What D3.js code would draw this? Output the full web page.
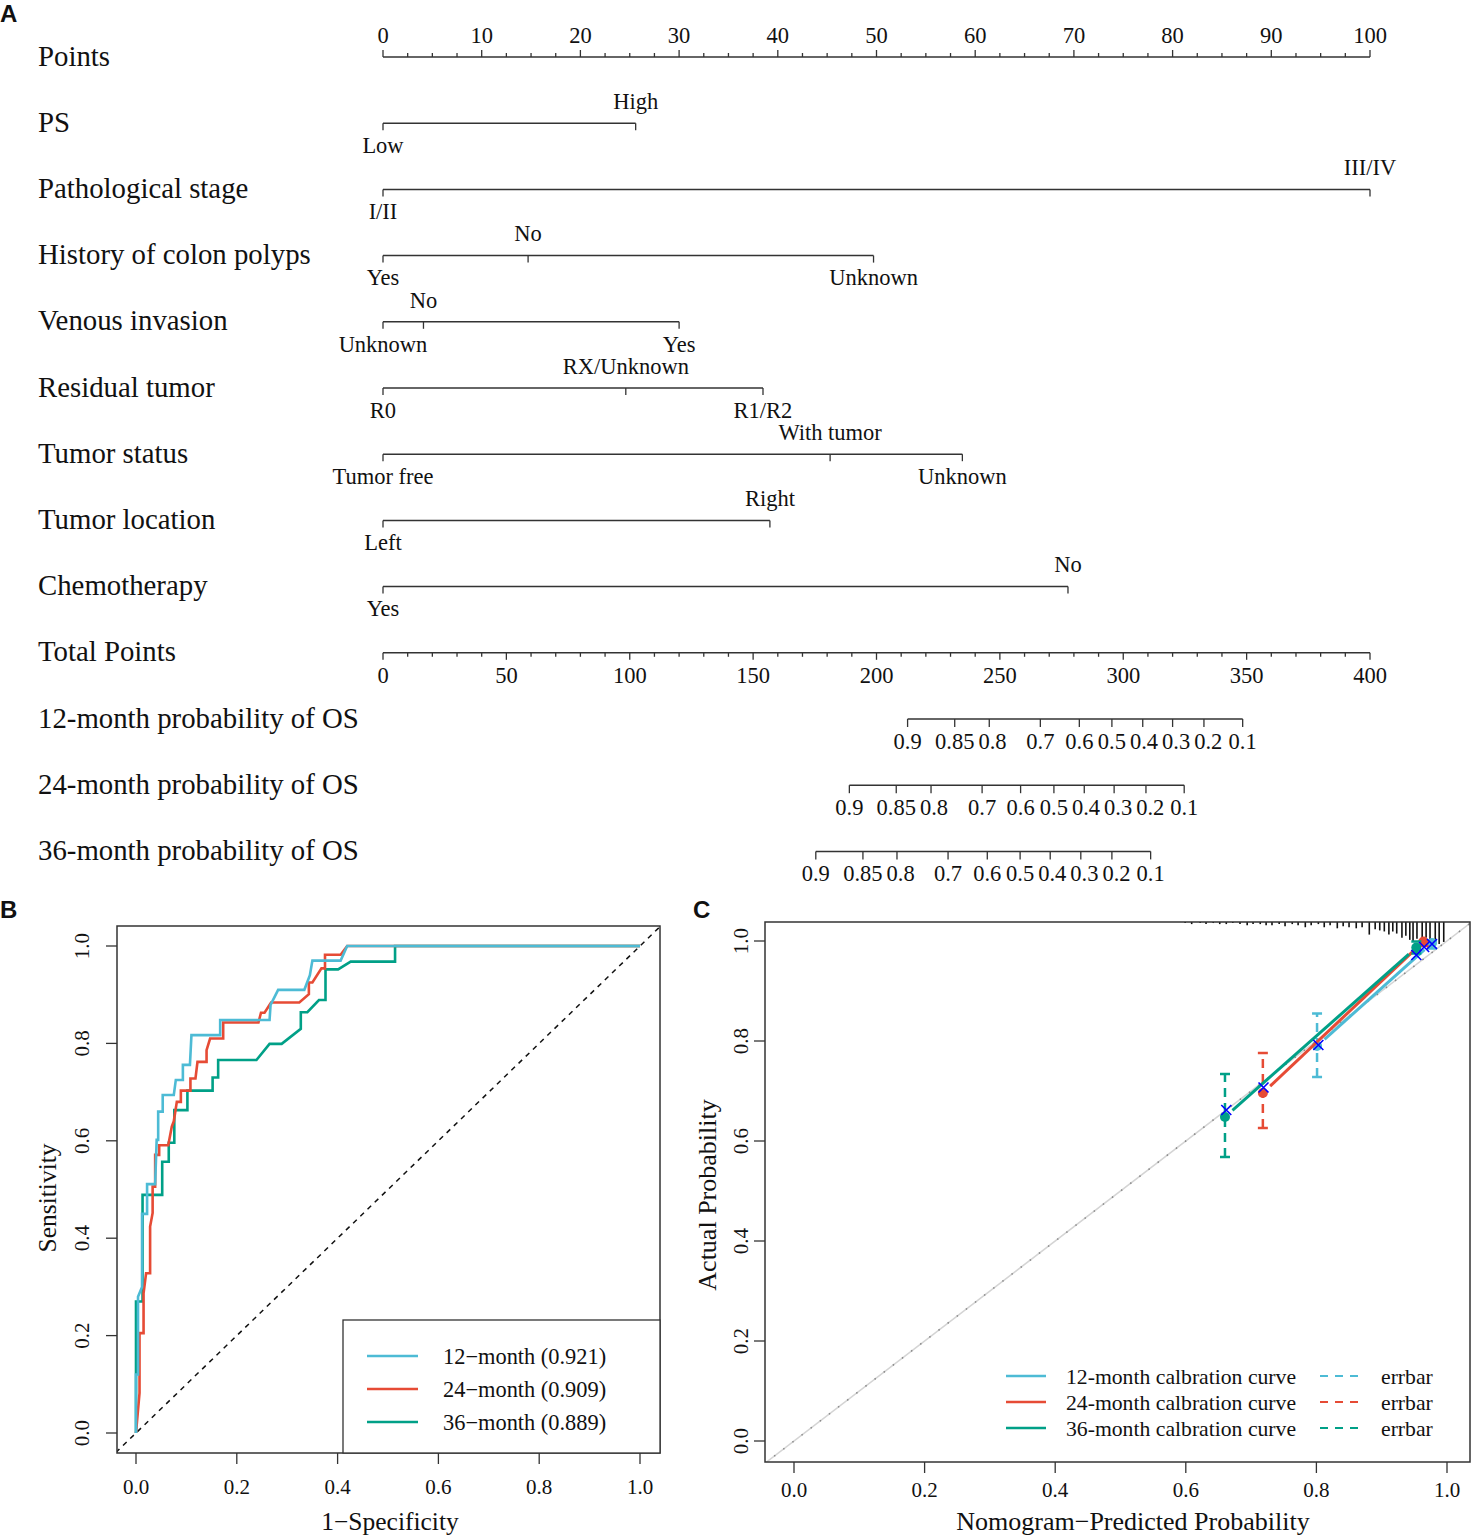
<!DOCTYPE html>
<html>
<head>
<meta charset="utf-8">
<script src="https://cdn.jsdelivr.net/npm/d3@7"></script>
<style>
  body { margin: 0; background: #fff; }
  svg text { font-family: "Liberation Serif", "Times New Roman", serif; fill: #111; }
  .tag { font-family: "Liberation Sans", Arial, sans-serif !important; font-weight: bold; }
</style>
</head>
<body>
<svg id="fig" width="1474" height="1539"></svg>
<script>
// ---------------- nomogram (panel A) ----------------
const pointTicks = d3.range(0, 101, 10);
const totalTicks = d3.range(0, 401, 50);

const varNames = ["PS", "Pathological stage", "History of colon polyps", "Venous invasion",
  "Residual tumor", "Tumor status", "Tumor location", "Chemotherapy"];
const varLevels = [
  ["Low", "High"],
  ["I/II", "III/IV"],
  ["Yes", "No", "Unknown"],
  ["Unknown", "No", "Yes"],
  ["R0", "RX/Unknown", "R1/R2"],
  ["Tumor free", "With tumor", "Unknown"],
  ["Left", "Right"],
  ["Yes", "No"]
];
const varPoints = [
  [0, 25.6],
  [0, 100],
  [0, 14.7, 49.7],
  [0, 4.1, 30.0],
  [0, 24.6, 38.5],
  [0, 45.3, 58.7],
  [0, 39.2],
  [0, 69.4]
];

const probNames = ["12-month probability of OS", "24-month probability of OS", "36-month probability of OS"];
const probLabels = ["0.9", "0.85", "0.8", "0.7", "0.6", "0.5", "0.4", "0.3", "0.2", "0.1"];
// total points at which each survival probability falls
const prob12Total = [212.6, 231.7, 245.7, 266.4, 282.2, 295.4, 307.9, 320.0, 332.7, 348.4];
const prob24Total = [189.0, 208.0, 222.1, 242.8, 258.4, 271.9, 284.2, 296.3, 309.2, 324.7];
const prob36Total = [175.4, 194.5, 208.3, 229.0, 244.9, 258.2, 270.4, 282.8, 295.4, 311.1];

// ---------------- ROC (panel B) ----------------
const roc12 = [[0,0],[0,0.12],[0.004,0.12],[0.004,0.28],[0.012,0.30],[0.012,0.45],[0.022,0.45],[0.022,0.511],
  [0.038,0.511],[0.041,0.602],[0.044,0.602],[0.044,0.66],[0.053,0.66],[0.053,0.694],[0.075,0.694],[0.079,0.725],
  [0.093,0.725],[0.093,0.756],[0.107,0.756],[0.110,0.817],[0.167,0.817],[0.167,0.848],[0.265,0.848],[0.267,0.879],
  [0.282,0.910],[0.334,0.910],[0.345,0.94],[0.350,0.970],[0.406,0.970],[0.419,1],[1,1]];
const roc24 = [[0,0],[0.007,0.082],[0.007,0.205],[0.015,0.205],[0.015,0.287],[0.020,0.328],[0.028,0.328],
  [0.028,0.424],[0.033,0.452],[0.033,0.506],[0.038,0.506],[0.038,0.571],[0.046,0.571],[0.046,0.591],[0.064,0.591],
  [0.071,0.629],[0.075,0.64],[0.081,0.680],[0.089,0.680],[0.089,0.703],[0.108,0.703],[0.108,0.728],[0.118,0.728],
  [0.122,0.762],[0.140,0.762],[0.140,0.786],[0.147,0.810],[0.173,0.810],[0.173,0.843],[0.243,0.843],[0.248,0.863],
  [0.255,0.863],[0.268,0.884],[0.324,0.884],[0.343,0.901],[0.343,0.925],[0.350,0.925],[0.368,0.954],[0.375,0.954],
  [0.375,0.982],[0.406,0.982],[0.419,1],[1,1]];
const roc36 = [[0,0],[0,0.27],[0.013,0.27],[0.013,0.489],[0.052,0.489],[0.052,0.557],[0.065,0.557],[0.065,0.596],
  [0.076,0.596],[0.076,0.663],[0.102,0.663],[0.102,0.703],[0.152,0.703],[0.152,0.730],[0.163,0.730],[0.163,0.766],
  [0.239,0.766],[0.265,0.799],[0.289,0.799],[0.327,0.830],[0.327,0.864],[0.340,0.864],[0.363,0.889],[0.376,0.889],
  [0.376,0.952],[0.401,0.952],[0.426,0.968],[0.514,0.968],[0.514,1],[1,1]];
const rocLabels = ["12\u2212month (0.921)", "24\u2212month (0.909)", "36\u2212month (0.889)"];

// ---------------- calibration (panel C) ----------------
const calPred12 = [0.801, 0.977], calObs12 = [0.790, 0.996], calLo12 = [0.728, 0.985], calHi12 = [0.855, 1.0];
const calPred24 = [0.718, 0.964], calObs24 = [0.696, 0.999], calLo24 = [0.626, 0.99], calHi24 = [0.776, 1.0];
const calPred36 = [0.660, 0.953], calObs36 = [0.648, 0.987], calLo36 = [0.568, 0.975], calHi36 = [0.734, 0.999];
// bias-corrected estimates (blue crosses)
const corrPred = [0.803, 0.719, 0.662, 0.953, 0.965, 0.977];
const corrObs  = [0.792, 0.707, 0.662, 0.972, 0.988, 0.994];
// distribution of predicted probabilities (rug at top)
const rugP = [0.599,0.609,0.622,0.631,0.642,0.652,0.662,0.672,0.683,0.694,0.703,0.714,0.723,0.732,0.743,0.752,
  0.763,0.772,0.783,0.792,0.803,0.812,0.821,0.832,0.841,0.850,0.861,0.870,0.881,0.890,0.897,0.904,0.911,0.917,
  0.923,0.931,0.937,0.943,0.948,0.954,0.962,0.968,0.974,0.982,0.988,0.995];
const rugFreq = [1,2,1,2,1,2,2,1,2,3,2,2,3,3,2,4,2,3,5,3,2,5,3,6,4,5,6,5,12,7,8,9,12,9,11,15,13,17,19,16,19,15,20,18,21,19];
const calLabels = ["12-month calbration curve", "24-month calbration curve", "36-month calbration curve"];

const colors = ["#4DBBD5", "#E64B35", "#00A087"];
const ink = "#333";

const svg = d3.select("#fig");

// ======== panel A ========
const pts = d3.scaleLinear().domain([0, 100]).range([383, 1370]);
const tot = d3.scaleLinear().domain([0, 400]).range([383, 1370]);
const rowY = i => 57 + i * 66.2;
const labFont = 28.8, tickFont = 22.5;

svg.append("text").attr("class", "tag").attr("x", 0).attr("y", 22).attr("font-size", 24).text("A");

const A = svg.append("g");
function rowLabel(txt, y) {
  A.append("text").attr("x", 38).attr("y", y).attr("dy", "0.3em").attr("font-size", labFont).text(txt);
}

// Points axis (ticks upward)
rowLabel("Points", rowY(0));
A.append("line").attr("x1", pts(0)).attr("x2", pts(100)).attr("y1", rowY(0)).attr("y2", rowY(0))
  .attr("stroke", ink).attr("stroke-width", 1.5);
A.selectAll(".ptmin").data(d3.range(0, 100.1, 2.5)).join("line")
  .attr("x1", d => pts(d)).attr("x2", d => pts(d))
  .attr("y1", rowY(0)).attr("y2", d => rowY(0) - (d % 10 === 0 ? 7 : 4))
  .attr("stroke", ink).attr("stroke-width", 1.3);
A.selectAll(".ptlab").data(pointTicks).join("text")
  .attr("x", d => pts(d)).attr("y", rowY(0) - 22).attr("dy", "0.35em")
  .attr("text-anchor", "middle").attr("font-size", tickFont).text(d => d);

// variables
varNames.forEach((name, i) => {
  const y = rowY(i + 1);
  rowLabel(name, y);
  const p = varPoints[i];
  A.append("line").attr("x1", pts(d3.min(p))).attr("x2", pts(d3.max(p))).attr("y1", y).attr("y2", y)
    .attr("stroke", ink).attr("stroke-width", 1.5);
  const order = d3.range(p.length).sort((a, b) => p[a] - p[b]);
  order.forEach((k, j) => {
    A.append("line").attr("x1", pts(p[k])).attr("x2", pts(p[k])).attr("y1", y).attr("y2", y + 7)
      .attr("stroke", ink).attr("stroke-width", 1.3);
    A.append("text").attr("x", pts(p[k])).attr("y", j % 2 === 0 ? y + 22 : y - 22).attr("dy", "0.35em")
      .attr("text-anchor", "middle").attr("font-size", tickFont).text(varLevels[i][k]);
  });
});

// Total points axis
const yTot = rowY(9);
rowLabel("Total Points", yTot);
A.append("line").attr("x1", tot(0)).attr("x2", tot(400)).attr("y1", yTot).attr("y2", yTot)
  .attr("stroke", ink).attr("stroke-width", 1.5);
A.selectAll(".totmin").data(d3.range(0, 401, 10)).join("line")
  .attr("x1", d => tot(d)).attr("x2", d => tot(d))
  .attr("y1", yTot).attr("y2", d => yTot + (d % 50 === 0 ? 7 : 4))
  .attr("stroke", ink).attr("stroke-width", 1.3);
A.selectAll(".totlab").data(totalTicks).join("text")
  .attr("x", d => tot(d)).attr("y", yTot + 22).attr("dy", "0.35em")
  .attr("text-anchor", "middle").attr("font-size", tickFont).text(d => d);

// probability axes
[prob12Total, prob24Total, prob36Total].forEach((arr, i) => {
  const y = rowY(10 + i);
  rowLabel(probNames[i], y);
  A.append("line").attr("x1", tot(arr[0])).attr("x2", tot(arr[arr.length - 1])).attr("y1", y).attr("y2", y)
    .attr("stroke", ink).attr("stroke-width", 1.5);
  let prevRight = -Infinity;
  arr.forEach((v, k) => {
    A.append("line").attr("x1", tot(v)).attr("x2", tot(v)).attr("y1", y).attr("y2", y + 8)
      .attr("stroke", ink).attr("stroke-width", 1.3);
    const t = A.append("text").attr("x", tot(v)).attr("y", y + 22).attr("dy", "0.35em")
      .attr("text-anchor", "middle").attr("font-size", tickFont).text(probLabels[k]);
    // nudge right when a label would run into the previous one
    const w = t.node().getComputedTextLength();
    let xc = tot(v);
    if (xc - w / 2 < prevRight + 4) xc = prevRight + 4 + w / 2;
    t.attr("x", xc);
    prevRight = xc + w / 2;
  });
});

// ======== panel B : ROC ========
svg.append("text").attr("class", "tag").attr("x", 0).attr("y", 918).attr("font-size", 24).text("B");
const B = svg.append("g");
const bx = d3.scaleLinear().domain([0, 1]).range([136, 640]);
const by = d3.scaleLinear().domain([0, 1]).range([1433, 946]);
const bBox = { x0: 117, x1: 660, y0: 926, y1: 1453 };

B.append("clipPath").attr("id", "clipB").append("rect")
  .attr("x", bBox.x0).attr("y", bBox.y0).attr("width", bBox.x1 - bBox.x0).attr("height", bBox.y1 - bBox.y0);

// diagonal reference
B.append("line").attr("clip-path", "url(#clipB)")
  .attr("x1", bx(-0.04)).attr("y1", by(-0.04)).attr("x2", bx(1.04)).attr("y2", by(1.04))
  .attr("stroke", "#111").attr("stroke-width", 1.5).attr("stroke-dasharray", "5,5");

const rocLine = d3.line().x(d => bx(d[0])).y(d => by(d[1]));
[roc36, roc24, roc12].forEach((r, i) => {
  B.append("path").attr("d", rocLine(r)).attr("fill", "none")
    .attr("stroke", colors[2 - i]).attr("stroke-width", 2.6).attr("clip-path", "url(#clipB)");
});

B.append("rect").attr("x", bBox.x0).attr("y", bBox.y0).attr("width", bBox.x1 - bBox.x0).attr("height", bBox.y1 - bBox.y0)
  .attr("fill", "none").attr("stroke", ink).attr("stroke-width", 1.5);

const bTicks = [0, 0.2, 0.4, 0.6, 0.8, 1.0];
B.selectAll(".bxt").data(bTicks).join("line")
  .attr("x1", d => bx(d)).attr("x2", d => bx(d)).attr("y1", bBox.y1).attr("y2", bBox.y1 + 11)
  .attr("stroke", ink).attr("stroke-width", 1.3);
B.selectAll(".bxl").data(bTicks).join("text")
  .attr("x", d => bx(d)).attr("y", 1487).attr("dy", "0.35em").attr("text-anchor", "middle")
  .attr("font-size", 21).text(d => d.toFixed(1));
B.selectAll(".byt").data(bTicks).join("line")
  .attr("x1", bBox.x0).attr("x2", bBox.x0 - 11).attr("y1", d => by(d)).attr("y2", d => by(d))
  .attr("stroke", ink).attr("stroke-width", 1.3);
B.selectAll(".byl").data(bTicks).join("text")
  .attr("transform", d => `translate(82,${by(d)}) rotate(-90)`).attr("dy", "0.35em")
  .attr("text-anchor", "middle").attr("font-size", 21).text(d => d.toFixed(1));
B.append("text").attr("x", 390).attr("y", 1521).attr("dy", "0.35em").attr("text-anchor", "middle")
  .attr("font-size", 25.5).text("1\u2212Specificity");
B.append("text").attr("transform", "translate(47,1198) rotate(-90)").attr("dy", "0.35em")
  .attr("text-anchor", "middle").attr("font-size", 25.5).text("Sensitivity");

// legend
B.append("rect").attr("x", 343).attr("y", 1320).attr("width", 317).attr("height", 133)
  .attr("fill", "#fff").attr("stroke", ink).attr("stroke-width", 1.3);
rocLabels.forEach((t, i) => {
  const y = 1356 + i * 33;
  B.append("line").attr("x1", 367).attr("x2", 418).attr("y1", y).attr("y2", y)
    .attr("stroke", colors[i]).attr("stroke-width", 2.6);
  B.append("text").attr("x", 443).attr("y", y).attr("dy", "0.35em").attr("font-size", 22.4).text(t);
});

// ======== panel C : calibration ========
svg.append("text").attr("class", "tag").attr("x", 693).attr("y", 918).attr("font-size", 24).text("C");
const C = svg.append("g");
const cx = d3.scaleLinear().domain([0, 1]).range([794, 1447]);
const cy = d3.scaleLinear().domain([0, 1]).range([1441, 941]);
const cBox = { x0: 765, x1: 1470, y0: 922, y1: 1462 };

C.append("clipPath").attr("id", "clipC").append("rect")
  .attr("x", cBox.x0).attr("y", cBox.y0).attr("width", cBox.x1 - cBox.x0).attr("height", cBox.y1 - cBox.y0);

// ideal line
const dLo = (cBox.x0 - 794) / 653, dHi = (cBox.x1 - 794) / 653;
C.append("line").attr("clip-path", "url(#clipC)")
  .attr("x1", cx(dLo)).attr("y1", cy(dLo)).attr("x2", cx(dHi)).attr("y2", cy(dHi))
  .attr("stroke", "#d4d4d4").attr("stroke-width", 1.5);
C.append("line").attr("clip-path", "url(#clipC)")
  .attr("x1", cx(dLo)).attr("y1", cy(dLo)).attr("x2", cx(dHi)).attr("y2", cy(dHi))
  .attr("stroke", "#888").attr("stroke-width", 1.5).attr("stroke-dasharray", "1.5,10");

// rug of predicted probabilities
const rugH = d3.scaleLinear().domain([0, 20]).range([0, 21]);
C.selectAll(".rug").data(rugP).join("line")
  .attr("x1", d => cx(d)).attr("x2", d => cx(d))
  .attr("y1", cBox.y0).attr("y2", (d, i) => cBox.y0 + rugH(rugFreq[i]))
  .attr("stroke", "#111").attr("stroke-width", 1.6);

const cal = [
  { pred: calPred12, obs: calObs12, lo: calLo12, hi: calHi12 },
  { pred: calPred24, obs: calObs24, lo: calLo24, hi: calHi24 },
  { pred: calPred36, obs: calObs36, lo: calLo36, hi: calHi36 }
];
cal.forEach((c, i) => {
  const col = colors[i];
  // error bars
  c.pred.forEach((p, k) => {
    C.append("line").attr("x1", cx(p)).attr("x2", cx(p)).attr("y1", cy(c.lo[k])).attr("y2", cy(c.hi[k]))
      .attr("stroke", col).attr("stroke-width", 2.5).attr("stroke-dasharray", "9,6");
    [c.lo[k], c.hi[k]].forEach(v => {
      C.append("line").attr("x1", cx(p) - 5).attr("x2", cx(p) + 5).attr("y1", cy(v)).attr("y2", cy(v))
        .attr("stroke", col).attr("stroke-width", 2.5);
    });
  });
  // line with gaps at the points (type = "b")
  for (let k = 0; k < c.pred.length - 1; k++) {
    const x1 = cx(c.pred[k]), y1 = cy(c.obs[k]), x2 = cx(c.pred[k + 1]), y2 = cy(c.obs[k + 1]);
    const len = Math.hypot(x2 - x1, y2 - y1), ux = (x2 - x1) / len, uy = (y2 - y1) / len;
    C.append("line").attr("x1", x1 + ux * 10).attr("y1", y1 + uy * 10)
      .attr("x2", x2 - ux * 10).attr("y2", y2 - uy * 10)
      .attr("stroke", col).attr("stroke-width", 3);
  }
  c.pred.forEach((p, k) => {
    C.append("circle").attr("cx", cx(p)).attr("cy", cy(c.obs[k])).attr("r", 5).attr("fill", col);
  });
});

// bias-corrected crosses
corrPred.forEach((p, k) => {
  const x = cx(p), y = cy(corrObs[k]);
  C.append("path").attr("d", `M${x - 5},${y - 5}L${x + 5},${y + 5}M${x - 5},${y + 5}L${x + 5},${y - 5}`)
    .attr("stroke", "#0000FF").attr("stroke-width", 1.6);
});

C.append("rect").attr("x", cBox.x0).attr("y", cBox.y0).attr("width", cBox.x1 - cBox.x0).attr("height", cBox.y1 - cBox.y0)
  .attr("fill", "none").attr("stroke", ink).attr("stroke-width", 1.5);

const cTicks = [0, 0.2, 0.4, 0.6, 0.8, 1.0];
C.selectAll(".cxt").data(cTicks).join("line")
  .attr("x1", d => cx(d)).attr("x2", d => cx(d)).attr("y1", cBox.y1).attr("y2", cBox.y1 + 11)
  .attr("stroke", ink).attr("stroke-width", 1.3);
C.selectAll(".cxl").data(cTicks).join("text")
  .attr("x", d => cx(d)).attr("y", 1490).attr("dy", "0.35em").attr("text-anchor", "middle")
  .attr("font-size", 21).text(d => d.toFixed(1));
C.selectAll(".cyt").data(cTicks).join("line")
  .attr("x1", cBox.x0).attr("x2", cBox.x0 - 11).attr("y1", d => cy(d)).attr("y2", d => cy(d))
  .attr("stroke", ink).attr("stroke-width", 1.3);
C.selectAll(".cyl").data(cTicks).join("text")
  .attr("transform", d => `translate(741,${cy(d)}) rotate(-90)`).attr("dy", "0.35em")
  .attr("text-anchor", "middle").attr("font-size", 21).text(d => d.toFixed(1));
C.append("text").attr("x", 1133).attr("y", 1521).attr("dy", "0.35em").attr("text-anchor", "middle")
  .attr("font-size", 26).text("Nomogram\u2212Predicted Probability");
C.append("text").attr("transform", "translate(707,1195) rotate(-90)").attr("dy", "0.35em")
  .attr("text-anchor", "middle").attr("font-size", 26).text("Actual Probability");

// legend
calLabels.forEach((t, i) => {
  const y = 1376 + i * 26;
  C.append("line").attr("x1", 1006).attr("x2", 1046).attr("y1", y).attr("y2", y)
    .attr("stroke", colors[i]).attr("stroke-width", 2.6);
  C.append("text").attr("x", 1066).attr("y", y).attr("dy", "0.35em").attr("font-size", 21.7).text(t);
  C.append("line").attr("x1", 1320).attr("x2", 1362).attr("y1", y).attr("y2", y)
    .attr("stroke", colors[i]).attr("stroke-width", 2.2).attr("stroke-dasharray", "8,7");
  C.append("text").attr("x", 1381).attr("y", y).attr("dy", "0.35em").attr("font-size", 21.7).text("errbar");
});
</script>
</body>
</html>
